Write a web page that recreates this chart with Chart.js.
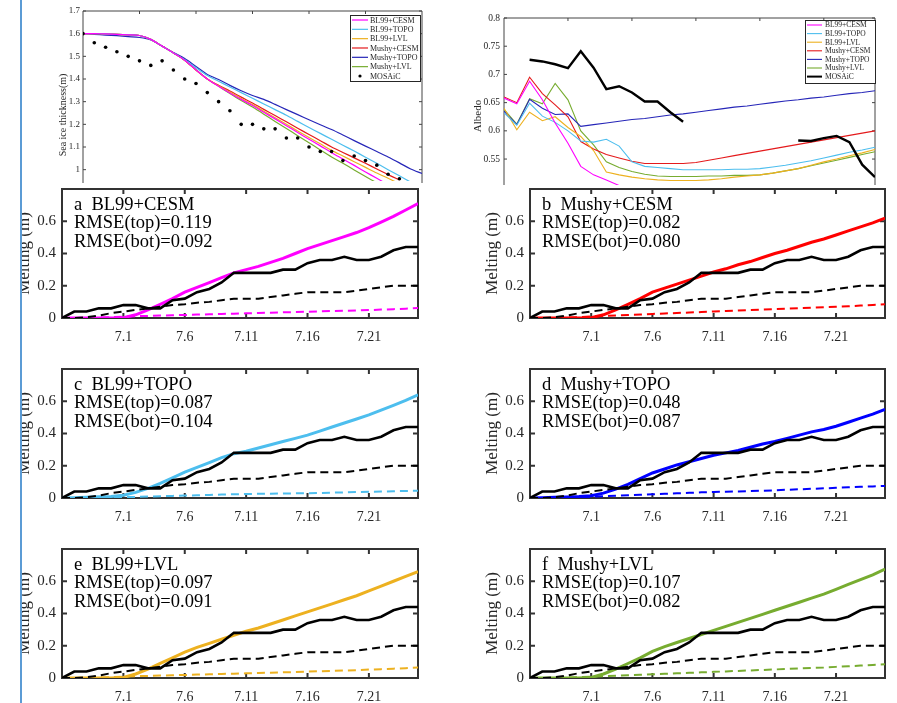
<!DOCTYPE html>
<html>
<head>
<meta charset="utf-8">
<script src="https://cdn.jsdelivr.net/npm/chart.js@4.4.1/dist/chart.umd.min.js"></script>
<style>
  body { margin: 0; background: #fff; width: 897px; height: 703px; overflow: hidden; position: relative; }
  canvas { position: absolute; }
  #mask { position: absolute; left: 0; top: 0; width: 20px; height: 703px; background: #fff; }
  #bar { position: absolute; left: 20px; top: 0; width: 2px; height: 703px; background: #5b9bd5; }
</style>
</head>
<body>
<div id="mask"></div>
<div id="bar"></div>
<script>
const FONT = '"Liberation Serif", "Times New Roman", serif';

// ---- top left: sea ice thickness (days after 6.26) ----
const thkDays = [0,1,2,3,4,5,6,7,8,9,10,11,12,13,14,15,16,17,18,19,20,21,22,23,24,25,26,27,28,29,30];
const thkYTicks = [1.0, 1.1, 1.2, 1.3, 1.4, 1.5, 1.6, 1.7];
const thkBL99CESM = [1.600,1.600,1.599,1.597,1.595,1.592,1.575,1.545,1.515,1.483,1.44,1.40,1.368,1.338,1.31,1.283,1.253,1.224,1.194,1.164,1.134,1.105,1.075,1.047,1.019,0.99,0.962,0.934];
const thkBL99TOPO = [1.600,1.600,1.599,1.597,1.595,1.592,1.575,1.545,1.515,1.485,1.45,1.415,1.39,1.365,1.34,1.315,1.29,1.265,1.24,1.213,1.186,1.16,1.134,1.108,1.082,1.055,1.028,1.0,0.973,0.945];
const thkBL99LVL = [1.600,1.600,1.599,1.597,1.595,1.592,1.575,1.545,1.515,1.483,1.44,1.40,1.37,1.342,1.314,1.287,1.258,1.229,1.20,1.171,1.142,1.114,1.085,1.06,1.035,1.01,0.985,0.962,0.938];
const thkMushyCESM = [1.600,1.600,1.599,1.597,1.595,1.592,1.575,1.545,1.515,1.483,1.44,1.40,1.372,1.347,1.32,1.294,1.266,1.239,1.211,1.183,1.155,1.128,1.10,1.076,1.052,1.028,1.003,0.978,0.955];
const thkMushyTOPO = [1.600,1.597,1.594,1.591,1.587,1.583,1.572,1.545,1.517,1.49,1.455,1.42,1.398,1.372,1.348,1.327,1.31,1.288,1.265,1.243,1.22,1.198,1.177,1.153,1.128,1.104,1.08,1.056,1.03,1.003,0.983];
const thkMushyLVL = [1.600,1.600,1.599,1.597,1.595,1.592,1.575,1.545,1.515,1.483,1.44,1.40,1.368,1.336,1.305,1.276,1.245,1.213,1.182,1.15,1.119,1.087,1.056,1.028,0.999,0.97,0.942,0.915];
const thkMOSAiC = [1.60,1.56,1.54,1.52,1.50,1.48,1.46,1.48,1.44,1.40,1.38,1.34,1.30,1.26,1.20,1.20,1.18,1.18,1.14,1.14,1.10,1.08,1.08,1.04,1.06,1.04,1.02,0.98,0.96];

// ---- top right: albedo ----
const albDays = [0,1,2,3,4,5,6,7,8,9,10,11,12,13,14,15,16,17,18,19,20,21,22,23,24,25,26,27,28,29];
const albYTicks = [0.55, 0.6, 0.65, 0.7, 0.75, 0.8];
const albBL99CESM = [0.658,0.648,0.688,0.655,0.614,0.578,0.537,0.522,0.513,0.503,0.495,0.49,0.487];
const albBL99TOPO = [0.632,0.61,0.649,0.626,0.615,0.60,0.582,0.58,0.585,0.573,0.545,0.537,0.535,0.533,0.531,0.531,0.531,0.531,0.532,0.532,0.533,0.536,0.539,0.543,0.547,0.552,0.557,0.562,0.566,0.571];
const albBL99LVL = [0.64,0.602,0.633,0.618,0.625,0.606,0.59,0.565,0.527,0.522,0.518,0.515,0.513,0.512,0.512,0.512,0.513,0.515,0.518,0.52,0.522,0.525,0.529,0.533,0.539,0.545,0.55,0.556,0.561,0.567];
const albMushyCESM = [0.66,0.65,0.695,0.666,0.646,0.625,0.581,0.568,0.558,0.552,0.546,0.542,0.542,0.542,0.542,0.544,0.548,0.552,0.556,0.56,0.564,0.568,0.572,0.576,0.58,0.584,0.588,0.592,0.596,0.60];
const albMushyTOPO = [0.635,0.611,0.656,0.64,0.629,0.63,0.608,0.611,0.614,0.617,0.62,0.622,0.625,0.628,0.63,0.633,0.636,0.639,0.642,0.644,0.647,0.65,0.653,0.655,0.658,0.66,0.663,0.666,0.668,0.671];
const albMushyLVL = [0.638,0.612,0.657,0.648,0.684,0.655,0.60,0.575,0.545,0.535,0.528,0.523,0.52,0.519,0.519,0.519,0.52,0.52,0.521,0.521,0.522,0.525,0.529,0.533,0.538,0.543,0.548,0.553,0.558,0.563];
const albMOSAiC = [null,null,0.726,0.723,0.718,0.711,0.741,0.712,0.674,0.679,0.668,0.652,0.652,0.633,0.616,null,null,null,null,null,null,null,null,0.583,0.582,0.587,0.591,0.58,0.54,0.518];

// ---- melting panels ----
const meltDays = [0,1,2,3,4,5,6,7,8,9,10,11,12,13,14,15,16,17,18,19,20,21,22,23,24,25,26,27,28,29];
const meltTickDays = [5, 10, 15, 20, 25];
const meltTickLabels = ['7.1', '7.6', '7.11', '7.16', '7.21'];
const meltYTicks = [0, 0.2, 0.4, 0.6];

const obsTop = [0,0.04,0.04,0.06,0.06,0.08,0.08,0.06,0.06,0.11,0.12,0.16,0.18,0.22,0.28,0.28,0.28,0.28,0.30,0.30,0.34,0.36,0.36,0.38,0.36,0.36,0.38,0.42,0.44,0.44];
const obsBot = [0,0,0.005,0.015,0.03,0.04,0.05,0.06,0.07,0.08,0.085,0.095,0.10,0.11,0.12,0.12,0.12,0.13,0.14,0.15,0.16,0.16,0.16,0.16,0.17,0.18,0.19,0.20,0.20,0.20];

const topBL99CESM = [0,0,0,0,0,0.002,0.02,0.05,0.085,0.12,0.16,0.19,0.22,0.25,0.28,0.30,0.32,0.345,0.37,0.40,0.43,0.455,0.48,0.505,0.53,0.56,0.595,0.63,0.67,0.71];
const botBL99CESM = [0,0,0,0.002,0.005,0.008,0.011,0.013,0.015,0.017,0.019,0.021,0.023,0.025,0.027,0.029,0.031,0.033,0.035,0.037,0.039,0.041,0.043,0.045,0.047,0.049,0.052,0.055,0.058,0.062];
const topMushyCESM = [0,0,0,0,0,0.002,0.02,0.05,0.085,0.12,0.16,0.185,0.21,0.235,0.26,0.285,0.305,0.33,0.35,0.375,0.40,0.42,0.445,0.47,0.49,0.515,0.54,0.565,0.59,0.62];
const botMushyCESM = [0,0,0,0.002,0.005,0.009,0.013,0.016,0.019,0.022,0.025,0.028,0.031,0.034,0.037,0.040,0.043,0.046,0.049,0.052,0.055,0.058,0.061,0.064,0.067,0.070,0.073,0.077,0.081,0.085];
const topBL99TOPO = [0,0.002,0.004,0.007,0.01,0.017,0.035,0.06,0.09,0.125,0.16,0.19,0.22,0.25,0.275,0.29,0.31,0.33,0.35,0.37,0.39,0.415,0.44,0.465,0.49,0.515,0.545,0.575,0.605,0.64];
const botBL99TOPO = [0,0,0,0.001,0.003,0.005,0.007,0.009,0.011,0.013,0.015,0.017,0.019,0.021,0.023,0.025,0.026,0.027,0.028,0.029,0.030,0.031,0.033,0.035,0.037,0.038,0.040,0.042,0.044,0.045];
const topMushyTOPO = [0,0.002,0.004,0.006,0.009,0.014,0.03,0.055,0.085,0.12,0.155,0.18,0.205,0.225,0.245,0.265,0.28,0.295,0.315,0.335,0.35,0.37,0.39,0.41,0.425,0.445,0.47,0.495,0.52,0.55];
const botMushyTOPO = [0,0,0,0.002,0.005,0.008,0.011,0.014,0.017,0.02,0.023,0.026,0.029,0.032,0.035,0.037,0.039,0.041,0.043,0.045,0.048,0.051,0.054,0.057,0.06,0.063,0.066,0.069,0.072,0.075];
const topBL99LVL = [0,0,0,0,0,0.003,0.025,0.055,0.09,0.125,0.16,0.19,0.215,0.24,0.265,0.29,0.31,0.335,0.36,0.385,0.41,0.435,0.46,0.485,0.51,0.54,0.57,0.60,0.63,0.66];
const botBL99LVL = [0,0,0,0.002,0.005,0.008,0.011,0.013,0.015,0.017,0.019,0.021,0.023,0.025,0.027,0.029,0.031,0.033,0.035,0.037,0.040,0.042,0.044,0.046,0.049,0.052,0.055,0.058,0.061,0.065];
const topMushyLVL = [0,0,0,0,0,0.003,0.025,0.055,0.09,0.125,0.165,0.195,0.22,0.245,0.27,0.295,0.32,0.345,0.37,0.395,0.42,0.445,0.47,0.495,0.52,0.55,0.58,0.61,0.64,0.675];
const botMushyLVL = [0,0,0,0.002,0.005,0.008,0.011,0.014,0.017,0.02,0.023,0.026,0.029,0.032,0.035,0.038,0.041,0.044,0.047,0.05,0.053,0.056,0.059,0.062,0.065,0.069,0.073,0.077,0.081,0.085];

const panelLetters = ['a', 'b', 'c', 'd', 'e', 'f'];
const panelNames = ['BL99+CESM', 'Mushy+CESM', 'BL99+TOPO', 'Mushy+TOPO', 'BL99+LVL', 'Mushy+LVL'];
const rmseTop = ['0.119', '0.082', '0.087', '0.048', '0.097', '0.107'];
const rmseBot = ['0.092', '0.080', '0.104', '0.087', '0.091', '0.082'];

const COL = {
  'BL99+CESM': '#ff00ff', 'BL99+TOPO': '#4dbeee', 'BL99+LVL': '#edb120',
  'Mushy+CESM': '#ff0000', 'Mushy+TOPO': '#0000ff', 'Mushy+LVL': '#77ac30'
};
// the small top plots show Mushy+TOPO a bit darker
const TOP_COL = Object.assign({}, COL, { 'Mushy+TOPO': '#2626b8', 'Mushy+CESM': '#e41a1c' });

function pts(xs, ys) {
  return ys.map((v, i) => ({ x: xs[i], y: v }));
}

// frame with inward ticks, rotated y title, text notes and a boxed legend
function decor(o) {
  return {
    id: 'decor',
    beforeDatasetsDraw(chart) {
      const { ctx, chartArea: a } = chart;
      const x = chart.scales.x, y = chart.scales.y;
      ctx.save();
      ctx.strokeStyle = o.frameColor;
      ctx.lineWidth = o.frameWidth;
      ctx.beginPath();
      x.ticks.forEach(t => {
        const px = x.getPixelForValue(t.value);
        if (!o.openBottom) { ctx.moveTo(px, a.bottom); ctx.lineTo(px, a.bottom - o.tickLen); }
        ctx.moveTo(px, a.top); ctx.lineTo(px, a.top + o.tickLen);
      });
      y.ticks.forEach(t => {
        const py = y.getPixelForValue(t.value);
        ctx.moveTo(a.left, py); ctx.lineTo(a.left + o.tickLen, py);
        ctx.moveTo(a.right, py); ctx.lineTo(a.right - o.tickLen, py);
      });
      ctx.stroke();
      ctx.beginPath();
      if (o.openBottom) {
        ctx.moveTo(a.left, a.bottom + 2); ctx.lineTo(a.left, a.top);
        ctx.lineTo(a.right, a.top); ctx.lineTo(a.right, a.bottom + 2);
      } else {
        ctx.rect(a.left, a.top, a.right - a.left, a.bottom - a.top);
      }
      ctx.stroke();

      ctx.translate(a.left + o.titleDx, a.top + (o.titleDy != null ? o.titleDy : (a.bottom - a.top) / 2));
      ctx.rotate(-Math.PI / 2);
      ctx.font = o.titleFont;
      ctx.fillStyle = '#262626';
      ctx.textAlign = 'center';
      ctx.textBaseline = 'middle';
      ctx.fillText(o.title, 0, 0);
      ctx.restore();
    },
    afterDatasetsDraw(chart) {
      const { ctx, chartArea: a } = chart;
      ctx.save();
      if (o.notes) {
        ctx.font = '18.5px ' + FONT;
        ctx.fillStyle = '#000';
        ctx.textAlign = 'left';
        ctx.textBaseline = 'middle';
        o.notes.forEach((s, i) => ctx.fillText(s, a.left + 12, a.top + 16 + i * 18.5));
      }
      if (o.legend) {
        const L = o.legend;
        ctx.fillStyle = '#fff';
        ctx.fillRect(L.x, L.y, L.w, L.h);
        ctx.strokeStyle = '#262626';
        ctx.lineWidth = 1;
        ctx.strokeRect(L.x + 0.5, L.y + 0.5, L.w, L.h);
        ctx.font = L.font;
        ctx.textAlign = 'left';
        ctx.textBaseline = 'middle';
        chart.data.datasets.forEach((ds, i) => {
          const ry = L.y + L.first + i * L.row;
          if (ds.showLine === false) {
            ctx.fillStyle = ds.pointBackgroundColor;
            ctx.beginPath();
            ctx.arc(L.x + L.s0 + (L.s1 - L.s0) / 2, ry, 1.6, 0, Math.PI * 2);
            ctx.fill();
          } else {
            ctx.strokeStyle = ds.borderColor;
            ctx.lineWidth = Math.min(ds.borderWidth, 2);
            ctx.beginPath();
            ctx.moveTo(L.x + L.s0, ry); ctx.lineTo(L.x + L.s1, ry);
            ctx.stroke();
          }
          ctx.fillStyle = '#262626';
          ctx.fillText(ds.label, L.x + L.tx, ry + 0.5);
        });
      }
      ctx.restore();
    }
  };
}

function addCanvas(box) {
  const c = document.createElement('canvas');
  c.width = box.w;
  c.height = box.h;
  c.style.left = box.left + 'px';
  c.style.top = box.top + 'px';
  document.body.insertBefore(c, document.getElementById('mask'));
  return c;
}

function noPad(sc) {
  sc.paddingTop = 0; sc.paddingBottom = 0; sc.paddingLeft = 0; sc.paddingRight = 0;
}

function scales(s) {
  return {
    x: {
      type: 'linear', min: s.xMin, max: s.xMax,
      afterBuildTicks: sc => { sc.ticks = s.xTicks.map(v => ({ value: v })); },
      afterFit: sc => { sc.height = s.xh; noPad(sc); },
      grid: { display: false, drawTicks: false },
      border: { display: false },
      ticks: {
        display: !!s.xLabels, autoSkip: false, maxRotation: 0, padding: 11,
        color: '#262626', font: { family: FONT, size: 14 },
        callback: v => s.xLabels ? s.xLabels[s.xTicks.indexOf(v)] : ''
      }
    },
    y: {
      min: s.yMin, max: s.yMax,
      afterBuildTicks: sc => { sc.ticks = s.yTicks.map(v => ({ value: v })); },
      afterFit: sc => { sc.width = s.yw; noPad(sc); },
      grid: { display: false, drawTicks: false },
      border: { display: false },
      ticks: {
        padding: s.yPad, color: '#262626', font: { family: FONT, size: s.yFont },
        callback: v => String(v)
      }
    }
  };
}

// ---------- top left ----------
const thkSeries = [
  ['BL99+CESM', thkBL99CESM], ['BL99+TOPO', thkBL99TOPO], ['BL99+LVL', thkBL99LVL],
  ['Mushy+CESM', thkMushyCESM], ['Mushy+TOPO', thkMushyTOPO], ['Mushy+LVL', thkMushyLVL]
];
const thkDatasets = thkSeries.map(([name, vals]) => ({
  label: name, data: pts(thkDays, vals), borderColor: TOP_COL[name], borderWidth: 1.2,
  pointRadius: 0, tension: 0.3, order: 1
}));
thkDatasets.push({
  label: 'MOSAiC', data: pts(thkDays, thkMOSAiC), showLine: false,
  pointRadius: 1.8, pointBackgroundColor: '#000', pointBorderWidth: 0, order: 0
});

new Chart(addCanvas({ left: 0, top: 0, w: 440, h: 185 }), {
  type: 'line',
  data: { datasets: thkDatasets },
  options: {
    responsive: false, animation: false,
    layout: { padding: { top: 11, right: 18, left: 0, bottom: 0 } },
    plugins: { legend: { display: false }, tooltip: { enabled: false } },
    scales: scales({ xMin: 0, xMax: 30, xTicks: [5, 10, 15, 20, 25], xh: 0,
      yMin: 0.95, yMax: 1.7, yTicks: thkYTicks, yw: 83, yPad: 3, yFont: 9 })
  },
  plugins: [decor({
    frameColor: '#444', frameWidth: 1, tickLen: 3, openBottom: true,
    title: 'Sea ice thickness(m)', titleFont: '10px ' + FONT, titleDx: -20, titleDy: 104,
    legend: { x: 350, y: 15, w: 70, h: 66, first: 5, row: 9.33, s0: 2, s1: 18, tx: 20, font: '8px ' + FONT }
  })]
});

// ---------- top right ----------
const albSeries = [
  ['BL99+CESM', albBL99CESM], ['BL99+TOPO', albBL99TOPO], ['BL99+LVL', albBL99LVL],
  ['Mushy+CESM', albMushyCESM], ['Mushy+TOPO', albMushyTOPO], ['Mushy+LVL', albMushyLVL]
];
const albDatasets = albSeries.map(([name, vals]) => ({
  label: name, data: pts(albDays, vals), borderColor: TOP_COL[name], borderWidth: 1.1,
  pointRadius: 0, order: 1
}));
albDatasets.push({
  label: 'MOSAiC', data: pts(albDays, albMOSAiC), borderColor: '#000', borderWidth: 2.4,
  pointRadius: 0, order: 0
});

new Chart(addCanvas({ left: 450, top: 0, w: 447, h: 185 }), {
  type: 'line',
  data: { datasets: albDatasets },
  options: {
    responsive: false, animation: false,
    layout: { padding: { top: 18, right: 22, left: 0, bottom: 0 } },
    plugins: { legend: { display: false }, tooltip: { enabled: false } },
    scales: scales({ xMin: 0, xMax: 29, xTicks: [5, 10, 15, 20, 25], xh: 0,
      yMin: 0.504, yMax: 0.8, yTicks: albYTicks, yw: 54, yPad: 4, yFont: 9.5 })
  },
  plugins: [decor({
    frameColor: '#444', frameWidth: 1, tickLen: 3, openBottom: true,
    title: 'Albedo', titleFont: '11px ' + FONT, titleDx: -26, titleDy: 98,
    legend: { x: 355, y: 20, w: 70, h: 63, first: 5, row: 8.6, s0: 2, s1: 17, tx: 20, font: '7.5px ' + FONT }
  })]
});

// ---------- melting panels ----------
const panelTop = [topBL99CESM, topMushyCESM, topBL99TOPO, topMushyTOPO, topBL99LVL, topMushyLVL];
const panelBot = [botBL99CESM, botMushyCESM, botBL99TOPO, botMushyTOPO, botBL99LVL, botMushyLVL];
const panelBoxes = [
  { left: 0, top: 180, w: 440, h: 170, yw: 62, pr: 22, xh: 32 },
  { left: 450, top: 180, w: 447, h: 170, yw: 80, pr: 12, xh: 32 },
  { left: 0, top: 360, w: 440, h: 170, yw: 62, pr: 22, xh: 32 },
  { left: 450, top: 360, w: 447, h: 170, yw: 80, pr: 12, xh: 32 },
  { left: 0, top: 540, w: 440, h: 163, yw: 62, pr: 22, xh: 25 },
  { left: 450, top: 540, w: 447, h: 163, yw: 80, pr: 12, xh: 25 }
];

panelBoxes.forEach((box, i) => {
  const color = COL[panelNames[i]];
  new Chart(addCanvas(box), {
    type: 'line',
    data: {
      datasets: [
        { data: pts(meltDays, obsTop), borderColor: '#000', borderWidth: 2.6, pointRadius: 0 },
        { data: pts(meltDays, obsBot), borderColor: '#000', borderWidth: 2, borderDash: [8, 5], pointRadius: 0 },
        { data: pts(meltDays, panelTop[i]), borderColor: color, borderWidth: 3, pointRadius: 0 },
        { data: pts(meltDays, panelBot[i]), borderColor: color, borderWidth: 2, borderDash: [8, 5], pointRadius: 0 }
      ]
    },
    options: {
      responsive: false, animation: false,
      layout: { padding: { top: 9, right: box.pr, left: 0, bottom: 0 } },
      plugins: { legend: { display: false }, tooltip: { enabled: false } },
      scales: scales({ xMin: 0, xMax: 29, xTicks: meltTickDays, xLabels: meltTickLabels, xh: box.xh,
        yMin: 0, yMax: 0.8, yTicks: meltYTicks, yw: box.yw, yPad: 6, yFont: 15 })
    },
    plugins: [decor({
      frameColor: '#333', frameWidth: 2, tickLen: 5, openBottom: false,
      title: 'Melting (m)', titleFont: '17px ' + FONT, titleDx: -37,
      notes: [panelLetters[i] + '  ' + panelNames[i], 'RMSE(top)=' + rmseTop[i], 'RMSE(bot)=' + rmseBot[i]]
    })]
  });
});
</script>
</body>
</html>
